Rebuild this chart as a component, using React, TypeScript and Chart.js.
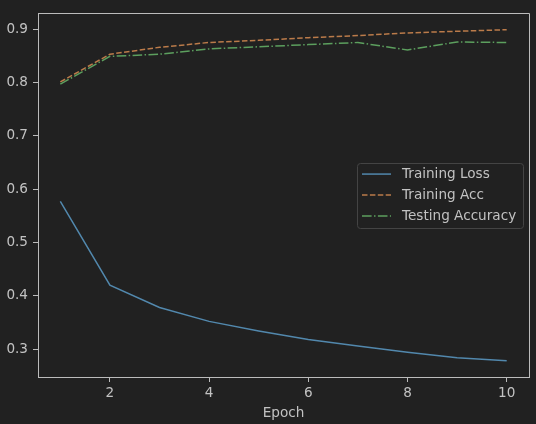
import React, { useEffect, useRef } from "react";
import { Chart, registerables } from "chart.js";

Chart.register(...registerables);

const epochs = [1, 2, 3, 4, 5, 6, 7, 8, 9, 10];
const trainingLoss = [0.577, 0.42, 0.378, 0.352, 0.334, 0.318, 0.306, 0.294, 0.284, 0.278];
const trainingAcc = [0.801, 0.853, 0.866, 0.875, 0.879, 0.884, 0.888, 0.893, 0.896, 0.899];
const testingAcc = [0.797, 0.849, 0.853, 0.863, 0.867, 0.871, 0.875, 0.861, 0.876, 0.875];
const xTicks = [2, 4, 6, 8, 10];
const yTicks = [0.3, 0.4, 0.5, 0.6, 0.7, 0.8, 0.9];
const seriesLabels = ["Training Loss", "Training Acc", "Testing Accuracy"];
const xTitle = "Epoch";

const BG = "#212121";
const FG = "#c2c2c2";
const SPINE = "#bcbcbc";
const FONT = "'DejaVu Sans', sans-serif";
const FS = 13.6;
const COLORS = ["#5288ad", "#bb7b4a", "#5c9f5e"];
const DASHES: number[][] = [[], [5.5, 2.4], [9.6, 2.4, 1.5, 2.4]];

export default function App() {
  const ref = useRef<HTMLCanvasElement | null>(null);

  useEffect(() => {
    document.body.style.background = BG;
    const canvas = ref.current;
    if (!canvas) return;
    const series = [trainingLoss, trainingAcc, testingAcc];

    const bgPlugin = {
      id: "bg",
      beforeDraw(chart: any) {
        const { ctx, width, height } = chart;
        ctx.save();
        ctx.fillStyle = BG;
        ctx.fillRect(0, 0, width, height);
        ctx.restore();
      },
    };

    const boxPlugin = {
      id: "box",
      afterDraw(chart: any) {
        const { ctx, chartArea } = chart;
        ctx.save();
        ctx.strokeStyle = SPINE;
        ctx.lineWidth = 1;
        ctx.beginPath();
        const l = Math.round(chartArea.left) + 0.5;
        const r = Math.round(chartArea.right) + 0.5;
        const t = Math.round(chartArea.top) + 0.5;
        const b = Math.round(chartArea.bottom) + 0.5;
        ctx.moveTo(l, t);
        ctx.lineTo(r, t);
        ctx.lineTo(r, b);
        ctx.stroke();
        ctx.restore();
      },
    };

    const legendPlugin = {
      id: "mplLegend",
      afterDatasetsDraw(chart: any) {
        const { ctx, chartArea } = chart;
        const w = 166;
        const h = 65;
        const x = chartArea.right - 6 - w;
        const y = (chartArea.top + chartArea.bottom) / 2 - h / 2;
        ctx.save();
        ctx.fillStyle = "rgba(33,33,33,0.85)";
        ctx.strokeStyle = "#444444";
        ctx.lineWidth = 1;
        ctx.beginPath();
        ctx.roundRect(Math.round(x) + 0.5, Math.round(y) + 0.5, w, h, 3);
        ctx.fill();
        ctx.stroke();
        chart.data.datasets.forEach((ds: any, i: number) => {
          const cy = y + 11.5 + i * 21;
          ctx.strokeStyle = ds.borderColor;
          ctx.lineWidth = 1.5;
          ctx.setLineDash(ds.borderDash || []);
          ctx.beginPath();
          ctx.moveTo(x + 5, cy);
          ctx.lineTo(x + 34, cy);
          ctx.stroke();
          ctx.setLineDash([]);
          ctx.fillStyle = FG;
          ctx.font = `${FS}px ${FONT}`;
          ctx.textBaseline = "middle";
          ctx.textAlign = "left";
          ctx.fillText(ds.label, x + 45, cy);
        });
        ctx.restore();
      },
    };

    const chart = new Chart(canvas, {
      type: "line",
      data: {
        datasets: series.map((s, i) => ({
          label: seriesLabels[i],
          data: epochs.map((e, j) => ({ x: e, y: s[j] })),
          borderColor: COLORS[i],
          backgroundColor: COLORS[i],
          borderWidth: 1.5,
          borderDash: DASHES[i],
          pointRadius: 0,
          tension: 0,
          fill: false,
          order: 2 - i,
        })),
      },
      options: {
        animation: false,
        responsive: false,
        maintainAspectRatio: false,
        layout: { padding: { top: 12, right: 7, left: 0, bottom: 0 } },
        plugins: {
          legend: { display: false },
          tooltip: { enabled: false },
        },
        scales: {
          x: {
            type: "linear",
            min: 0.55,
            max: 10.45,
            afterBuildTicks: (axis: any) => {
              axis.ticks = xTicks.map((v) => ({ value: v }));
            },
            afterFit: (axis: any) => {
              axis.height = 47;
            },
            ticks: {
              color: FG,
              font: { family: FONT, size: FS },
              padding: 3,
              maxRotation: 0,
              callback: (v: any) => String(v),
            },
            grid: {
              display: true,
              drawOnChartArea: false,
              drawTicks: true,
              tickLength: 5,
              tickColor: SPINE,
              tickWidth: 1,
            },
            border: { display: true, color: SPINE, width: 1 },
            title: {
              display: true,
              text: xTitle,
              color: FG,
              font: { family: FONT, size: FS },
              padding: { top: 0, bottom: 2 },
            },
          },
          y: {
            type: "linear",
            min: 0.2477,
            max: 0.93,
            afterBuildTicks: (axis: any) => {
              axis.ticks = yTicks.map((v) => ({ value: v }));
            },
            afterFit: (axis: any) => {
              axis.width = 38;
            },
            ticks: {
              color: FG,
              font: { family: FONT, size: FS },
              padding: 5,
              callback: (v: any) => Number(v).toFixed(1),
            },
            grid: {
              display: true,
              drawOnChartArea: false,
              drawTicks: true,
              tickLength: 5,
              tickColor: SPINE,
              tickWidth: 1,
            },
            border: { display: true, color: SPINE, width: 1 },
          },
        },
      },
      plugins: [bgPlugin, boxPlugin, legendPlugin],
    });
    return () => chart.destroy();
  }, []);

  return (
    <div style={{ position: "absolute", left: 0, top: 0, width: 536, height: 424, background: BG }}>
      <canvas ref={ref} width={536} height={424} style={{ display: "block", width: 536, height: 424 }} />
    </div>
  );
}
